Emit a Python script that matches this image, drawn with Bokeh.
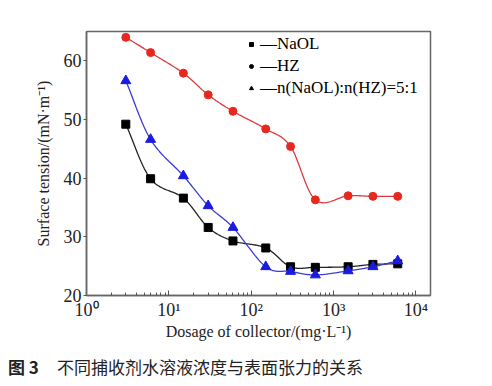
import numpy as np
from bokeh.plotting import figure
from bokeh.layouts import column
from bokeh.models import (Range1d, FixedTicker, LogTicker, CustomJSTickFormatter,
                          Legend, LegendItem, Div)
from bokeh.embed import file_html
from bokeh.resources import INLINE

# ---------------- data ----------------
dosage = [3, 6, 15, 30, 60, 150, 300, 600, 1500, 3000, 6000]
naol = [49.2, 39.9, 36.6, 31.6, 29.3, 28.1, 24.9, 24.8, 24.9, 25.3, 25.4]
hz = [64.0, 61.4, 57.9, 54.2, 51.4, 48.4, 45.4, 36.3, 37.0, 36.9, 36.9]
mix = [56.6, 46.6, 40.4, 35.3, 31.6, 24.9, 24.1, 23.5, 24.2, 24.9, 25.9]
y_ticks = [20, 30, 40, 50, 60]
labels = ["\u2014NaOL", "\u2014HZ", "\u2014n(NaOL):n(HZ)=5:1"]
caption_num = "图 3"
caption_txt = "不同捕收剂水溶液浓度与表面张力的关系"

SERIF = "Liberation Serif"
CJK = "Noto Sans CJK SC"


def smooth(xs, ys, n=30):
    """Catmull-Rom spline through the points in (log10 x, y) space."""
    lx = np.log10(np.asarray(xs, float))
    yy = np.asarray(ys, float)
    px = np.concatenate([[2 * lx[0] - lx[1]], lx, [2 * lx[-1] - lx[-2]]])
    py = np.concatenate([[2 * yy[0] - yy[1]], yy, [2 * yy[-1] - yy[-2]]])
    outx, outy = [], []
    t = np.linspace(0, 1, n, endpoint=False)
    for i in range(1, len(px) - 2):
        for arr, out in ((px, outx), (py, outy)):
            p0, p1, p2, p3 = arr[i - 1], arr[i], arr[i + 1], arr[i + 2]
            out.extend(0.5 * ((2 * p1) + (-p0 + p2) * t + (2 * p0 - 5 * p1 + 4 * p2 - p3) * t ** 2
                              + (-p0 + 3 * p1 - 3 * p2 + p3) * t ** 3))
    outx.append(lx[-1])
    outy.append(yy[-1])
    return 10 ** np.array(outx), np.array(outy)


p = figure(width=476, height=357, x_axis_type="log",
           x_range=Range1d(1, 15000), y_range=Range1d(20, 65),
           output_backend="svg", toolbar_location=None,
           min_border_left=86, min_border_right=46, min_border_top=31, min_border_bottom=62)
p.grid.visible = False
p.outline_line_color = "#666666"
p.outline_line_width = 1.5
p.background_fill_color = "white"
p.border_fill_color = "white"
p.extra_y_ranges = {"hidden": Range1d(0, 1)}

series = [
    (naol, "#222222", "#000000", "square", 8),
    (hz, "#e03a3a", "#e8281e", "circle", 8),
    (mix, "#3a3ad8", "#1a1ae0", "triangle", 10),
]
for ys, lc, mc, mk, sz in series:
    sx, sy = smooth(dosage, ys)
    p.line(sx, sy, line_color=lc, line_width=1.3)
    p.scatter(dosage, ys, marker=mk, size=sz, fill_color=mc, line_color=mc)

# legend with black markers (proxy renderers kept outside the visible range)
items = []
for (ys, lc, mc, mk, sz), lab in zip(series, labels):
    r = p.scatter([dosage[0]], [ys[0]], marker=mk, size=sz - 1, fill_color="black",
                  line_color="black", y_range_name="hidden")
    items.append(LegendItem(label=lab, renderers=[r]))
leg = Legend(items=items, location=(160, 196), glyph_width=10, glyph_height=14,
             label_height=22, spacing=0, padding=0, margin=0, label_standoff=4,
             border_line_color=None, background_fill_alpha=0,
             label_text_font=SERIF, label_text_font_size="17px", label_text_color="black")
p.add_layout(leg)

# axes
xa = p.xaxis[0]
xa.ticker = LogTicker(num_minor_ticks=10)
xa.formatter = CustomJSTickFormatter(code="""
const sup = {'0':'\u2070','1':'\u00b9','2':'\u00b2','3':'\u00b3','4':'\u2074','5':'\u2075'};
const e = Math.round(Math.log10(tick));
return '10' + String(e).split('').map(c => sup[c] || c).join('');
""")
xa.axis_label = "Dosage of collector/(mg\u00b7L\u207b\u00b9)"
xa.major_tick_in = 5
xa.major_tick_out = 0
xa.minor_tick_in = 3
xa.minor_tick_out = 0
xa.major_label_standoff = 4
xa.axis_label_standoff = 0

ya = p.yaxis[0]
ya.ticker = FixedTicker(ticks=y_ticks)
ya.axis_label = "Surface tension/(mN\u00b7m\u207b\u00b9)"
ya.major_tick_in = 0
ya.major_tick_out = 3
ya.minor_tick_in = 0
ya.minor_tick_out = 0
ya.major_label_standoff = 2
ya.axis_label_standoff = 9

for ax in (xa, ya):
    ax.axis_line_color = "#666666"
    ax.axis_line_width = 1.5
    ax.major_tick_line_color = "#555555"
    ax.minor_tick_line_color = "#555555"
    ax.major_label_text_font = SERIF
    ax.major_label_text_font_size = "18px"
    ax.major_label_text_color = "#222222"
    ax.axis_label_text_font = SERIF
    ax.axis_label_text_font_size = "16px"
    ax.axis_label_text_font_style = "normal"
    ax.axis_label_text_color = "#222222"

# caption below the chart
cap = Div(
    text=(f'<span style="font-weight:bold">{caption_num}</span>'
          f'<span style="display:inline-block;width:18px"></span>{caption_txt}'),
    width=476, height=20, margin=(0, 0, 0, 0),
    styles={"font-family": CJK, "font-size": "17px", "color": "#222222",
            "line-height": "20px", "white-space": "nowrap", "padding-left": "8px"},
)

layout = column(p, cap, spacing=0)
open("out.html", "w").write(file_html(layout, INLINE))
